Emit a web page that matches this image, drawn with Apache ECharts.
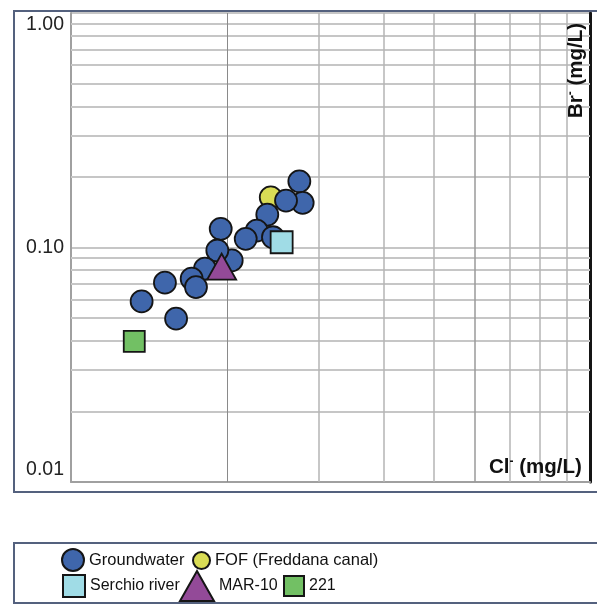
<!DOCTYPE html>
<html><head><meta charset="utf-8">
<script src="https://cdn.jsdelivr.net/npm/echarts@6/dist/echarts.min.js"></script>
<style>html,body{margin:0;padding:0;background:#fff}#c{width:597px;height:606px}</style>
</head><body><div id="c"></div>
<script>
// Cl- (mg/L) , Br- (mg/L)
const groundwater = [
  [27.54,0.1915],[27.95,0.155],[25.96,0.1585],[23.89,0.1381],[22.79,0.1181],
  [24.50,0.1106],[21.71,0.1089],[19.43,0.1201],[20.40,0.0881],[19.14,0.0971],
  [18.12,0.0812],[17.08,0.0736],[17.41,0.0678],[15.17,0.0708],[13.68,0.0589],[15.94,0.0497]
];
const fof = [[24.26,0.1637]];
const serchio = [[25.46,0.1053]];
const mar10 = [[19.51,0.0829]];
const s221 = [[13.24,0.0398]];
const yTickLabels = {'-2':'0.01','-1':'0.10','0':'1.00'};
const xGridValues = [20,30,40,50,60,70,80,90];
const yGridValues = [0.02,0.03,0.04,0.05,0.06,0.07,0.08,0.09,0.2,0.3,0.4,0.5,0.6,0.7,0.8,0.9];

const FONT = '"Liberation Sans", Arial, sans-serif';
const chart = echarts.init(document.getElementById('c'), null, {renderer:'canvas'});

function leg(name, left, top, w, h, fs){
  return {data:[name], left:left, top:top, itemWidth:w, itemHeight:h, padding:0, itemGap:0,
    selectedMode:false, textStyle:{fontSize:fs || 16, color:'#111', fontFamily:FONT}};
}
function pts(name, data, symbol, size, color){
  return {name:name, type:'scatter', data:data, symbol:symbol, symbolSize:size, z:10,
    itemStyle:{color:color, borderColor:'#151515', borderWidth:1.8, opacity:1},
    emphasis:{disabled:true}, animation:false};
}
const gridLines = [];
yGridValues.forEach(v => gridLines.push({yAxis:v, lineStyle:{color:'#c6c6c6', width:2, type:'solid'}}));
xGridValues.forEach(v => gridLines.push({xAxis:v, lineStyle:{color: v===20 ? '#8a8a8a' : (v===60 ? '#9a9a9a' : '#b4b4b4'), width: v===20 ? 1 : 1.5, type:'solid'}}));

chart.setOption({
  backgroundColor:'#fff',
  animation:false,
  grid:{left:71, right:7, top:13, bottom:124, outerBoundsMode:'none', containLabel:false},
  xAxis:{type:'log', logBase:10, min:10, max:100,
    axisLine:{show:true, lineStyle:{color:'#a0a0a0', width:2}},
    axisTick:{show:false}, axisLabel:{show:false}, splitLine:{show:false}, minorTick:{show:false}},
  yAxis:[
    {type:'log', logBase:10, min:0.01, max:1,
      axisLine:{show:true, lineStyle:{color:'#a0a0a0', width:2}},
      axisTick:{show:false},
      splitLine:{show:true, lineStyle:{color:'#c6c6c6', width:2}},
      axisLabel:{show:true, margin:7, color:'#222', fontSize:19.5, fontFamily:FONT,
        formatter:function(v){
          const k = Math.round(Math.log10(v));
          const t = yTickLabels[String(k)];
          if (k === 0) return '{t|' + t + '}';
          if (k === -2) return '{b|' + t + '}';
          return '{m|' + t + '}';
        },
        rich:{
          t:{fontSize:19.5, fontFamily:FONT, color:'#222', padding:[23,0,0,0]},
          m:{fontSize:19.5, fontFamily:FONT, color:'#222'},
          b:{fontSize:19.5, fontFamily:FONT, color:'#222', padding:[0,0,24,0]}
        }}},
    {type:'log', logBase:10, min:0.01, max:1, position:'right',
      axisLine:{show:true, lineStyle:{color:'#151515', width:3}},
      axisTick:{show:false}, axisLabel:{show:false}, splitLine:{show:false}}
  ],
  legend:[
    leg('Groundwater', 61, 548, 22, 22, 16.5),
    leg('FOF (Freddana canal)', 192, 551, 17, 17, 16.5),
    leg('Serchio river', 62, 574, 22, 22, 16),
    leg('MAR-10', 179, 570, 34, 30, 16),
    leg('221', 283, 575, 20, 20, 16)
  ],
  graphic:[
    {type:'rect', shape:{x:14, y:11, width:600, height:481}, style:{fill:'none', stroke:'#54617e', lineWidth:2}, silent:true, z:100},
    {type:'rect', shape:{x:14, y:543, width:600, height:60}, style:{fill:'none', stroke:'#54617e', lineWidth:2}, silent:true, z:100},
    {type:'text', x:489, y:467, silent:true, z:100,
      style:{text:'{n|Cl}{s|-}{n| (mg/L)}', textAlign:'left', textVerticalAlign:'middle',
        rich:{n:{fontSize:20.5, fontWeight:'bold', fontFamily:FONT, fill:'#111'},
              s:{fontSize:12, fontWeight:'bold', fontFamily:FONT, fill:'#111', padding:[0,0,10,0]}}}},
    {type:'text', x:576, y:118, rotation:Math.PI/2, silent:true, z:100,
      style:{text:'{n|Br}{s|-}{n| (mg/L)}', textAlign:'left', textVerticalAlign:'middle',
        rich:{n:{fontSize:20.5, fontWeight:'bold', fontFamily:FONT, fill:'#111'},
              s:{fontSize:12, fontWeight:'bold', fontFamily:FONT, fill:'#111', padding:[0,0,10,0]}}}}
  ],
  series:[
    {name:'gridlines', type:'scatter', data:[], silent:true, z:1,
      markLine:{silent:true, symbol:'none', z:1, label:{show:false}, animation:false, emphasis:{disabled:true}, data:gridLines}},
    pts('FOF (Freddana canal)', fof, 'circle', 22, '#d9dc55'),
    pts('Groundwater', groundwater, 'circle', 22, '#3f66ab'),
    pts('Serchio river', serchio, 'rect', 22, '#a0dce6'),
    pts('MAR-10', mar10, 'triangle', [29,26], '#934a98'),
    pts('221', s221, 'rect', 21, '#72c064')
  ]
});
</script></body></html>
